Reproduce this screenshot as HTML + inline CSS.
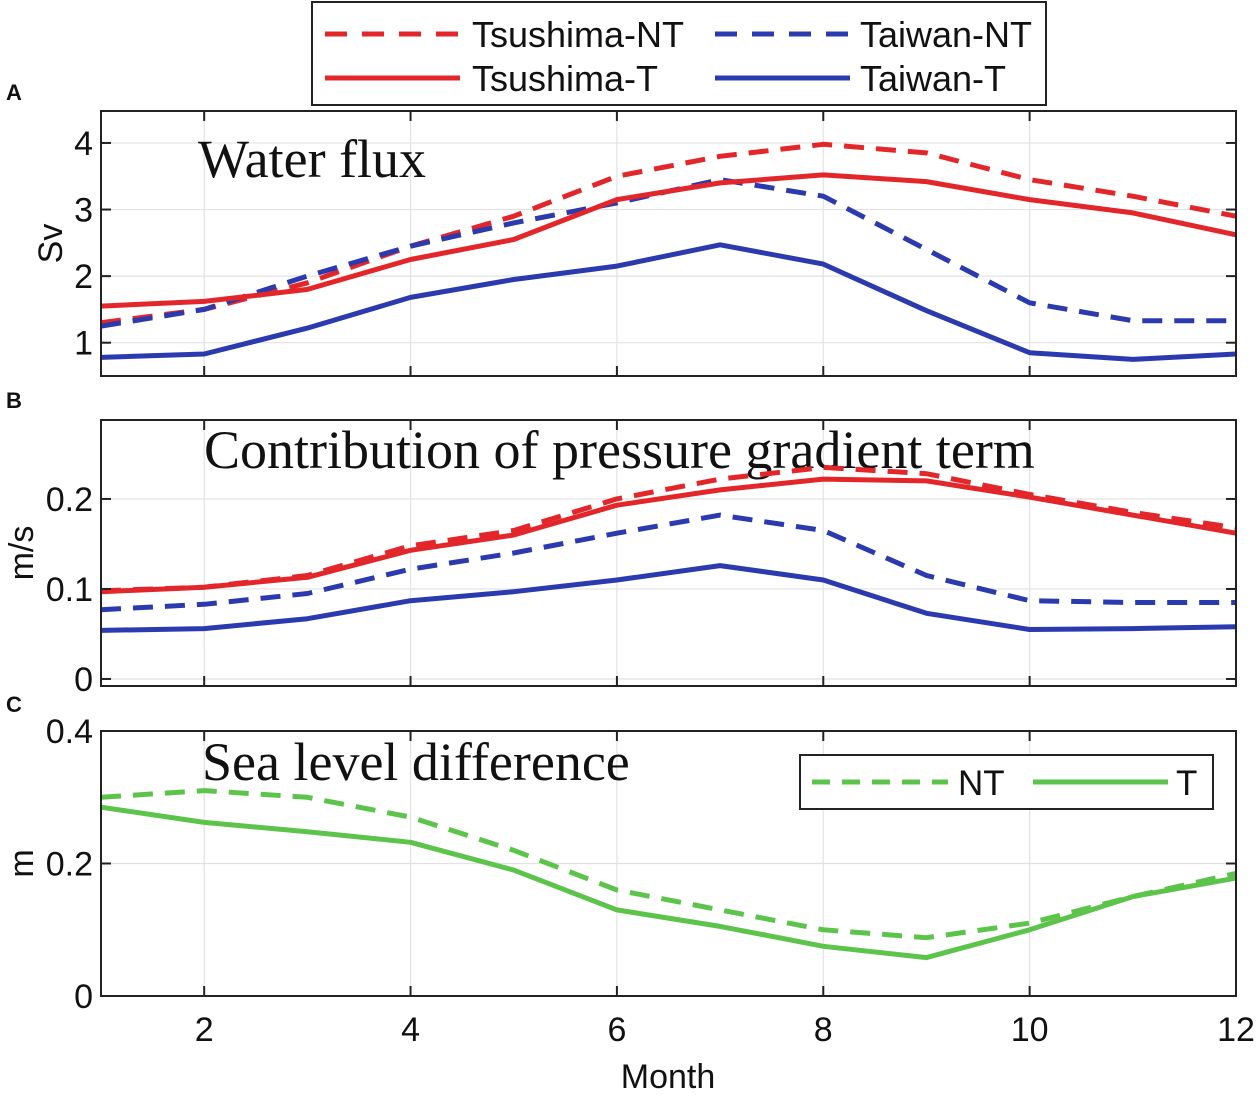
<!DOCTYPE html>
<html><head><meta charset="utf-8"><style>
html,body{margin:0;padding:0;background:#fff;}
svg{display:block;}
</style></head><body>
<svg id="fig" width="1258" height="1100" viewBox="0 0 1258 1100" xmlns="http://www.w3.org/2000/svg"></svg>
<script>
const months = [1,2,3,4,5,6,7,8,9,10,11,12];
// Panel A: water flux (Sv)
const fluxTsushimaNT = [1.3,1.5,1.9,2.45,2.9,3.5,3.8,3.98,3.85,3.45,3.2,2.9];
const fluxTsushimaT  = [1.55,1.62,1.8,2.25,2.55,3.15,3.4,3.52,3.42,3.15,2.95,2.62];
const fluxTaiwanNT   = [1.25,1.5,2.0,2.45,2.8,3.1,3.45,3.2,2.4,1.6,1.33,1.33];
const fluxTaiwanT    = [0.78,0.83,1.22,1.68,1.95,2.15,2.47,2.18,1.48,0.85,0.75,0.83];
// Panel B: pressure gradient contribution (m/s)
const pgTsushimaNT = [0.098,0.102,0.115,0.148,0.165,0.2,0.222,0.235,0.228,0.205,0.185,0.168];
const pgTsushimaT  = [0.097,0.102,0.113,0.143,0.16,0.193,0.21,0.222,0.22,0.202,0.182,0.162];
const pgTaiwanNT   = [0.077,0.083,0.095,0.122,0.14,0.162,0.182,0.165,0.115,0.087,0.085,0.085];
const pgTaiwanT    = [0.054,0.056,0.067,0.087,0.097,0.11,0.126,0.11,0.073,0.055,0.056,0.058];
// Panel C: sea level difference (m)
const slNT = [0.3,0.31,0.3,0.27,0.22,0.16,0.13,0.1,0.088,0.11,0.15,0.185];
const slT  = [0.285,0.262,0.248,0.232,0.19,0.13,0.105,0.075,0.058,0.1,0.15,0.178];
// ticks
const xTicks = [2,4,6,8,10,12];
const xTickLabels = ["2","4","6","8","10","12"];
const aTicks = [1,2,3,4];
const aTickLabels = ["1","2","3","4"];
const bTicks = [0,0.1,0.2];
const bTickLabels = ["0","0.1","0.2"];
const cTicks = [0,0.2,0.4];
const cTickLabels = ["0","0.2","0.4"];

const NS="http://www.w3.org/2000/svg";
const svg=document.getElementById('fig');
function mk(tag,attrs,parent){const e=document.createElementNS(NS,tag);for(const k in attrs)e.setAttribute(k,attrs[k]);(parent||svg).appendChild(e);return e;}
const X0=101,X1=1236;
const xs=m=>X0+(m-1)*(X1-X0)/11;
const RED="#e3262a",BLUE="#2b3aae",GREEN="#5cc44a";

function panel(name,top,bot,ymin,ymax,ticks,labels,ylabel,ylabX,title,titleY,series,showX){
  const ys=v=>bot-(v-ymin)/(ymax-ymin)*(bot-top);
  const g=mk('g',{});
  
  
  xTicks.forEach(t=>{const l=mk('line',{x1:xs(t),x2:xs(t),y1:top,y2:bot,stroke:'#e2e2e2','stroke-width':1.2},g);
    });
  ticks.forEach(t=>{const l=mk('line',{x1:X0,x2:X1,y1:ys(t),y2:ys(t),stroke:'#e2e2e2','stroke-width':1.2},g);
    });
  const tt=mk('text',{x:title.x,y:titleY,'font-family':'Liberation Serif, serif','font-size':54,fill:'#111'},g);
  tt.textContent=title.text;
  
  series.forEach(s=>{
    const pts=s.data.map((v,i)=>xs(months[i]).toFixed(1)+','+ys(v).toFixed(1)).join(' ');
    const p=mk('polyline',{points:pts,fill:'none',stroke:s.color,'stroke-width':5,'stroke-linejoin':'round','stroke-dasharray':s.dash?'20,12':'none'},g);
    
  });
  const r=mk('rect',{x:X0,y:top,width:X1-X0,height:bot-top,fill:'none',stroke:'#222','stroke-width':2},g);
  
  xTicks.forEach((t,i)=>{
    mk('line',{x1:xs(t),x2:xs(t),y1:bot,y2:bot-10,stroke:'#222','stroke-width':2},g);
    mk('line',{x1:xs(t),x2:xs(t),y1:top,y2:top+10,stroke:'#222','stroke-width':2},g);
    if(showX){const tl=mk('text',{x:xs(t),y:bot+45,'text-anchor':'middle','font-family':'Liberation Sans, sans-serif','font-size':34,fill:'#111'},g);
      tl.textContent=xTickLabels[i];}
  });
  ticks.forEach((t,i)=>{
    mk('line',{x1:X0,x2:X0+10,y1:ys(t),y2:ys(t),stroke:'#222','stroke-width':2},g);
    mk('line',{x1:X1,x2:X1-10,y1:ys(t),y2:ys(t),stroke:'#222','stroke-width':2},g);
    const tl=mk('text',{x:X0-8,y:ys(t)+12,'text-anchor':'end','font-family':'Liberation Sans, sans-serif','font-size':34,fill:'#111'},g);
    tl.textContent=labels[i];
  });
  const cy=(top+bot)/2;
  const yl=mk('text',{x:0,y:0,transform:`translate(${ylabX},${cy}) rotate(-90)`,'text-anchor':'middle','font-family':'Liberation Sans, sans-serif','font-size':34,fill:'#111'},g);
  yl.textContent=ylabel;
}

panel('panel-a-water-flux',111,376,0.5,4.48,aTicks,aTickLabels,'Sv',62,{text:'Water flux',x:198},177,[
  {name:'tsushima-nt-line',data:fluxTsushimaNT,color:RED,dash:true},
  {name:'taiwan-nt-line',data:fluxTaiwanNT,color:BLUE,dash:true},
  {name:'tsushima-t-line',data:fluxTsushimaT,color:RED,dash:false},
  {name:'taiwan-t-line',data:fluxTaiwanT,color:BLUE,dash:false}],false);
panel('panel-b-pressure-gradient',420,686,-0.0078,0.2877,bTicks,bTickLabels,'m/s',33,{text:'Contribution of pressure gradient term',x:204},468,[
  {name:'tsushima-nt-line',data:pgTsushimaNT,color:RED,dash:true},
  {name:'taiwan-nt-line',data:pgTaiwanNT,color:BLUE,dash:true},
  {name:'tsushima-t-line',data:pgTsushimaT,color:RED,dash:false},
  {name:'taiwan-t-line',data:pgTaiwanT,color:BLUE,dash:false}],false);
panel('panel-c-sea-level',731,996,0,0.4,cTicks,cTickLabels,'m',33,{text:'Sea level difference',x:202},780,[
  {name:'nt-line',data:slNT,color:GREEN,dash:true},
  {name:'t-line',data:slT,color:GREEN,dash:false}],true);

// panel letters
[['A',100],['B',408],['C',712]].forEach(([t,y])=>{
  const e=mk('text',{x:6,y:y,'font-family':'Liberation Sans, sans-serif','font-weight':'bold','font-size':22,fill:'#111'});
  e.textContent=t;
});
// x axis title
const xt=mk('text',{x:668,y:1088,'text-anchor':'middle','font-family':'Liberation Sans, sans-serif','font-size':34,fill:'#111'});
xt.textContent='Month';



// top legend
const lg=mk('g',{});


mk('rect',{x:312,y:2,width:734,height:103,fill:'#fff',stroke:'#222','stroke-width':2},lg);
[[325,34,RED,true,'Tsushima-NT',472],[715,34,BLUE,true,'Taiwan-NT',860],[325,78,RED,false,'Tsushima-T',472],[715,78,BLUE,false,'Taiwan-T',860]].forEach(([x,y,c,d,t,tx])=>{
  const ln=mk('line',{x1:x,x2:x+135,y1:y,y2:y,stroke:c,'stroke-width':5,'stroke-dasharray':d?'22,15':'none'},lg);
  
  const tx2=mk('text',{x:tx,y:y+13,'font-family':'Liberation Sans, sans-serif','font-size':36,fill:'#111'},lg);
  tx2.textContent=t;
});
// panel C legend
const lc=mk('g',{});


mk('rect',{x:800,y:755,width:413,height:54,fill:'#fff',stroke:'#222','stroke-width':2},lc);
mk('line',{x1:812,x2:948,y1:782,y2:782,stroke:GREEN,'stroke-width':5,'stroke-dasharray':'18,12'},lc);
mk('line',{x1:1033,x2:1168,y1:782,y2:782,stroke:GREEN,'stroke-width':5},lc);
const n1=mk('text',{x:958,y:795,'font-family':'Liberation Sans, sans-serif','font-size':35,fill:'#111'},lc);
n1.textContent='NT';
const n2=mk('text',{x:1176,y:795,'font-family':'Liberation Sans, sans-serif','font-size':35,fill:'#111'},lc);
n2.textContent='T';
</script>
</body></html>
